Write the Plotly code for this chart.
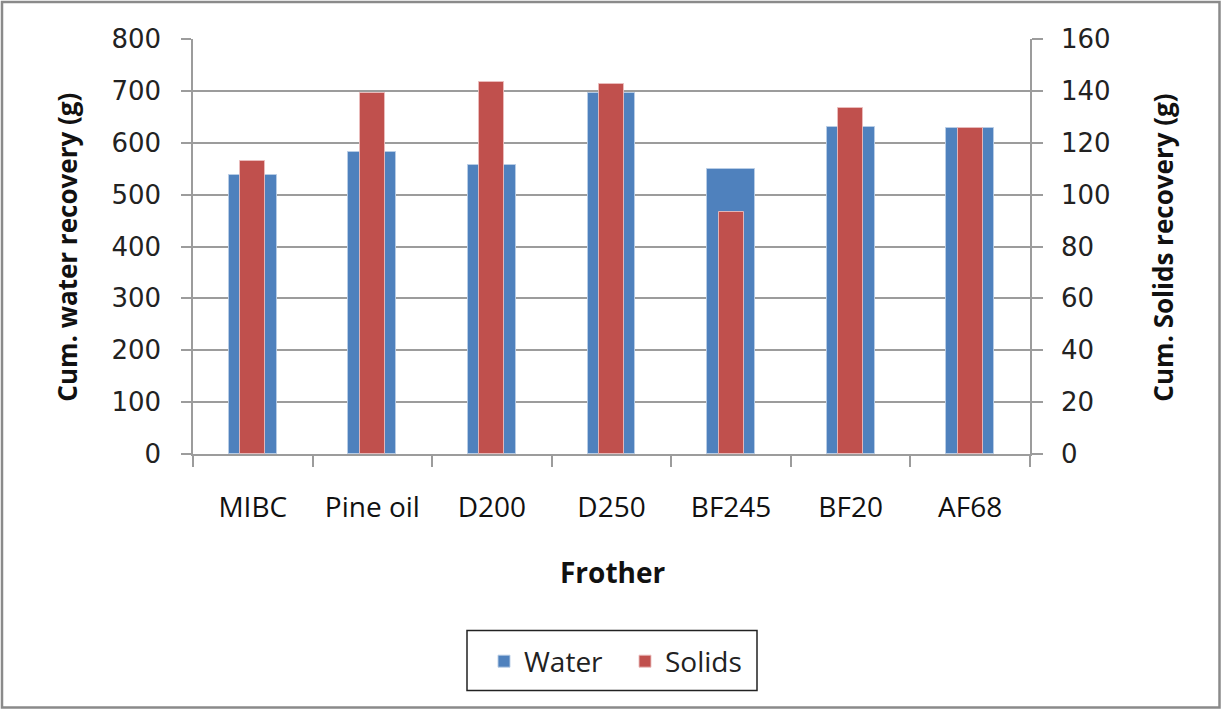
import plotly.graph_objects as go

categories = ["MIBC", "Pine oil", "D200", "D250", "BF245", "BF20", "AF68"]
water = [537, 583, 558, 695, 549, 631, 628]
solids = [113, 139, 143.3, 142.8, 93.4, 133.5, 125.7]

W, H = 1222, 709
L, R = 193, 1030
T, B = 39, 453.7
pw, ph = R - L, B - T

def px(x):
    return (x - L) / pw

def py(y):
    return (B - y) / ph

grid = "#9c9c9c"

fig = go.Figure()
fig.add_trace(go.Bar(
    x=categories, y=water, name="Water", yaxis="y",
    width=0.4, marker=dict(color="#4F81BD", line=dict(color="rgba(185,205,230,0.9)", width=1)),
))
fig.add_trace(go.Bar(
    x=categories, y=solids, name="Solids", yaxis="y2",
    width=0.21, marker=dict(color="#C0504D", line=dict(color="rgba(235,190,190,0.9)", width=1)),
))

fig.update_layout(
    width=W, height=H,
    margin=dict(l=L, r=W - R, t=T, b=H - B, pad=0),
    paper_bgcolor="white", plot_bgcolor="white",
    barmode="overlay",
    bargap=0,
    showlegend=True,
    legend=dict(
        orientation="h", x=px(484), y=py(661), xanchor="left", yanchor="middle",
        borderwidth=0, bgcolor="rgba(0,0,0,0)",
        font=dict(family="Open Sans", size=28, color="#222222"),
        entrywidth=96, entrywidthmode="pixels", tracegroupgap=0,
    ),
    xaxis=dict(
        type="category", tickson="boundaries", ticks="outside", ticklen=11,
        tickcolor=grid, tickwidth=1.5, showline=True, linecolor=grid, linewidth=1.5,
        showgrid=False,
        tickfont=dict(family="Open Sans", size=28, color="#111111"),
        ticklabelstandoff=28,
    ),
    yaxis=dict(
        range=[0, 800], dtick=100, ticks="outside", ticklen=10, tickcolor=grid, tickwidth=1.5,
        showline=True, linecolor=grid, linewidth=1.5,
        showgrid=True, gridcolor=grid, gridwidth=1.5, zeroline=False,
        tickfont=dict(family="DejaVu Sans", size=26, color="#222222"),
        ticklabelstandoff=15,
    ),
    yaxis2=dict(
        range=[0, 160], dtick=20, overlaying="y", side="right",
        ticks="outside", ticklen=11, tickcolor=grid, tickwidth=1.5,
        showline=True, linecolor=grid, linewidth=1.5,
        showgrid=False, zeroline=False,
        tickfont=dict(family="DejaVu Sans", size=26, color="#222222"),
        ticklabelstandoff=13,
    ),
    annotations=[
        dict(text="<b>Cum. water recovery (g)</b>", x=px(67), y=py(247.5), xref="paper", yref="paper",
             xanchor="center", yanchor="middle", textangle=-90, showarrow=False,
             font=dict(family="Open Sans", size=26, color="#111111")),
        dict(text="<b>Cum. Solids recovery (g)</b>", x=px(1163), y=py(247.5), xref="paper", yref="paper",
             xanchor="center", yanchor="middle", textangle=-90, showarrow=False,
             font=dict(family="Open Sans", size=26, color="#111111")),
        dict(text="<b>Frother</b>", x=px(613), y=py(572), xref="paper", yref="paper",
             xanchor="center", yanchor="middle", showarrow=False,
             font=dict(family="Open Sans", size=28, color="#111111")),
    ],
    shapes=[
        dict(type="rect", xref="paper", yref="paper",
             x0=px(2), x1=px(1219.5), y0=py(707), y1=py(2),
             line=dict(color="#8a8a8a", width=2.5), fillcolor="rgba(0,0,0,0)", layer="below"),
        dict(type="rect", xref="paper", yref="paper",
             x0=px(467), x1=px(757), y0=py(690), y1=py(630),
             line=dict(color="#222222", width=1.5), fillcolor="rgba(0,0,0,0)", layer="above"),
    ],
)

fig.write_html("out.html", config={"displayModeBar": False},
               post_script="document.body.style.margin='0px';document.body.style.padding='0px';")
